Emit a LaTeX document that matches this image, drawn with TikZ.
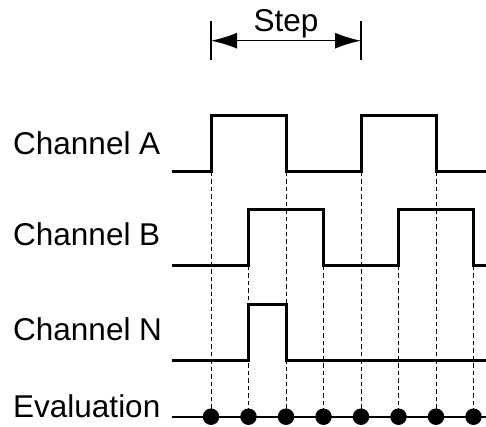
\documentclass[tikz,border=0pt]{standalone}
\usepackage{fontspec}
\setmainfont{Liberation Sans}
\usetikzlibrary{arrows.meta}
\begin{document}
\begin{tikzpicture}[x=1pt,y=-1pt,
  lbl/.style={inner sep=0pt,anchor=base west,font=\fontsize{31.5}{36}\selectfont},
  sig/.style={line width=3pt,line join=miter,line cap=butt},
  guide/.style={line width=1pt,dash pattern=on 4.5pt off 3pt},
  evalline/.style={line width=2pt},
  dot/.style={circle,fill=black,inner sep=0pt,minimum size=16.5pt},
  bar/.style={line width=1.5pt}]
\useasboundingbox (0,0) rectangle (486,426);
% x positions
\foreach \i/\x in {0/211,1/248.5,2/286,3/323.5,4/361,5/398.5,6/436,7/473.5}{
  \coordinate (x\i) at (\x,0);
}
% labels
\node[lbl] (la) at (13,154.5) {Channel A};
\node[lbl] (lb) at (13,245) {Channel B};
\node[lbl] (ln) at (13,340) {Channel N};
\node[lbl] (le) at (13,417) {Evaluation};
\node[inner sep=0pt,anchor=base,font=\fontsize{31.5}{36}\selectfont] (step) at (286,31.5) {Step};
% step dimension
\coordinate (s1t) at (211,21); \coordinate (s1b) at (211,60);
\coordinate (s2t) at (361,21); \coordinate (s2b) at (361,60);
\coordinate (s1) at (211,40.7); \coordinate (s2) at (361,40.7);
\draw[bar] (s1t) -- (s1b);
\draw[bar] (s2t) -- (s2b);
\draw[line width=1.5pt,{Latex[length=26pt,width=16pt]}-{Latex[length=26pt,width=16pt]}] (s1) -- (s2);
% dashed guides
\foreach \x in {211,286,361,436}{
  \draw[guide] (\x,171.7) -- (\x,416.7);
}
\foreach \x in {248.5,323.5,398.5,473.5}{
  \draw[guide] (\x,265.7) -- (\x,416.7);
}
% Channel A
\draw[sig] (172,171.7) -- (211,171.7) -- (211,115.3) -- (286,115.3) -- (286,171.7)
  -- (361,171.7) -- (361,115.3) -- (436,115.3) -- (436,171.7) -- (486,171.7);
% Channel B
\draw[sig] (172,265.7) -- (248.5,265.7) -- (248.5,209.3) -- (323.5,209.3) -- (323.5,265.7)
  -- (398.5,265.7) -- (398.5,209.3) -- (473.5,209.3) -- (473.5,265.7) -- (486,265.7);
% Channel N
\draw[sig] (172,360.3) -- (248.5,360.3) -- (248.5,304) -- (286,304) -- (286,360.3) -- (486,360.3);
% Evaluation
\draw[evalline] (172,416.7) -- (486,416.7);
\foreach \i/\x in {0/211,1/248.5,2/286,3/323.5,4/361,5/398.5,6/436,7/473.5}{
  \node[dot] (d\i) at (\x,416.7) {};
}
\end{tikzpicture}
\end{document}
